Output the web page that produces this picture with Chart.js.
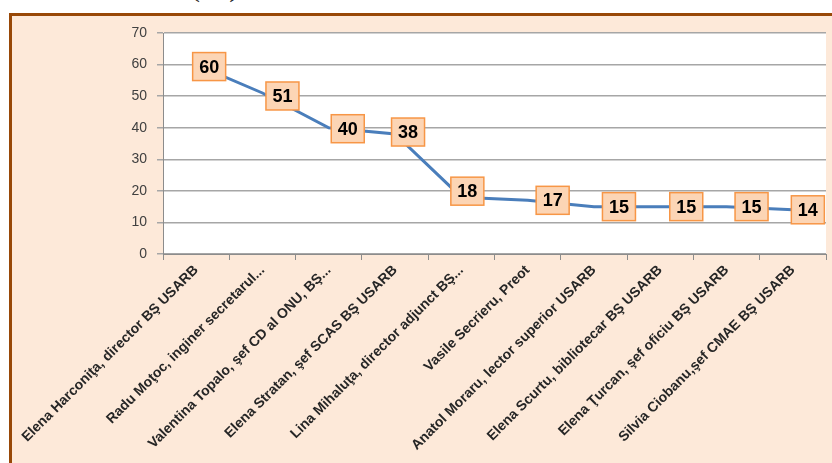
<!DOCTYPE html>
<html>
<head>
<meta charset="utf-8">
<script src="https://cdn.jsdelivr.net/npm/chart.js@4.4.0/dist/chart.umd.min.js"></script>
<style>
  body { margin: 0; background: #ffffff; overflow: hidden; }
  #cadru {
    position: absolute; left: 9px; top: 13px; width: 830px; height: 460px;
    background: #fde9d9; border-left: 3px solid #984807; border-top: 3px solid #984807;
  }
  #titlu {
    position: absolute; left: 190px; top: -31px; font-family: 'Liberation Serif', serif;
    font-size: 30px; color: #222; letter-spacing: 8px;
  }
  #grafic { position: absolute; left: 0; top: 0; }
</style>
</head>
<body>
<div id="titlu">(a)</div>
<div id="cadru"></div>
<canvas id="grafic" width="832" height="463"></canvas>
<script>
// persoane si valori
const persoane = [
  'Elena Harconiţa, director BŞ USARB',
  'Radu Moţoc, inginer secretarul...',
  'Valentina Topalo, şef CD al ONU, BŞ...',
  'Elena Stratan, şef SCAS BŞ USARB',
  'Lina Mihaluţa, director adjunct BŞ...',
  'Vasile Secrieru, Preot',
  'Anatol Moraru, lector superior USARB',
  'Elena Scurtu, bibliotecar BŞ USARB',
  'Elena Ţurcan, şef oficiu BŞ USARB',
  'Silvia Ciobanu,şef CMAE BŞ USARB'
];
const valori = [60, 51, 40, 38, 18, 17, 15, 15, 15, 14];
const ticksY = [0, 10, 20, 30, 40, 50, 60, 70];

// deplasarea etichetelor fata de punct (ca in Excel)
const etDx = [13, 20, 19, 13, 6, 25, 25, 26, 25, 15];
const etDy = [2, 3, 1, -2, -6, 0, 0, 0, 0, 0];

const fundalPlot = {
  id: 'fundalPlot',
  beforeDraw(chart) {
    const {ctx, chartArea: a} = chart;
    ctx.save();
    ctx.fillStyle = '#ffffff';
    ctx.fillRect(a.left, a.top, a.right - a.left, a.bottom - a.top);
    ctx.restore();
  }
};

const etichete = {
  id: 'etichete',
  afterDatasetsDraw(chart) {
    const ctx = chart.ctx;
    const meta = chart.getDatasetMeta(0);
    ctx.save();
    meta.data.forEach((p, i) => {
      const cx = p.x + etDx[i];
      const cy = p.y + etDy[i];
      const w = 33, h = 28;
      ctx.fillStyle = '#fcd5b5';
      ctx.strokeStyle = '#f79646';
      ctx.lineWidth = 1.5;
      ctx.fillRect(cx - w / 2, cy - h / 2, w, h);
      ctx.strokeRect(cx - w / 2, cy - h / 2, w, h);
      ctx.fillStyle = '#000000';
      ctx.font = 'bold 18px "Liberation Sans", Arial, sans-serif';
      ctx.textAlign = 'center';
      ctx.textBaseline = 'middle';
      ctx.fillText(String(valori[i]), cx, cy + 1);
    });
    ctx.restore();
  }
};

const ctx = document.getElementById('grafic').getContext('2d');
new Chart(ctx, {
  type: 'line',
  data: {
    labels: persoane,
    datasets: [{
      data: valori,
      borderColor: '#4a7ebb',
      borderWidth: 3,
      pointRadius: 0,
      tension: 0,
      fill: false
    }]
  },
  options: {
    responsive: false,
    animation: false,
    layout: { padding: { top: 33, right: 6, left: 0, bottom: 0 } },
    plugins: { legend: { display: false }, tooltip: { enabled: false } },
    scales: {
      x: {
        offset: true,
        border: { color: '#8c8c8c', width: 1 },
        grid: { drawOnChartArea: false, drawTicks: true, tickLength: 6, offset: true, color: '#8c8c8c' },
        ticks: {
          autoSkip: false, maxRotation: 45, minRotation: 45, padding: 2,
          color: '#262626',
          font: { family: '"Liberation Sans", Arial, sans-serif', size: 14, weight: 'bold' }
        },
        afterFit(scale) { scale.height = 209; }
      },
      y: {
        min: 0, max: 70,
        afterBuildTicks(scale) { scale.ticks = ticksY.map(v => ({value: v})); },
        border: { color: '#8c8c8c', width: 1 },
        grid: { color: '#a6a6a6', lineWidth: 1.5, tickLength: 6 },
        ticks: {
          padding: 10, color: '#404040',
          font: { family: '"Liberation Sans", Arial, sans-serif', size: 14 }
        },
        afterFit(scale) { scale.width = 163; }
      }
    }
  },
  plugins: [fundalPlot, etichete]
});
</script>
</body>
</html>
